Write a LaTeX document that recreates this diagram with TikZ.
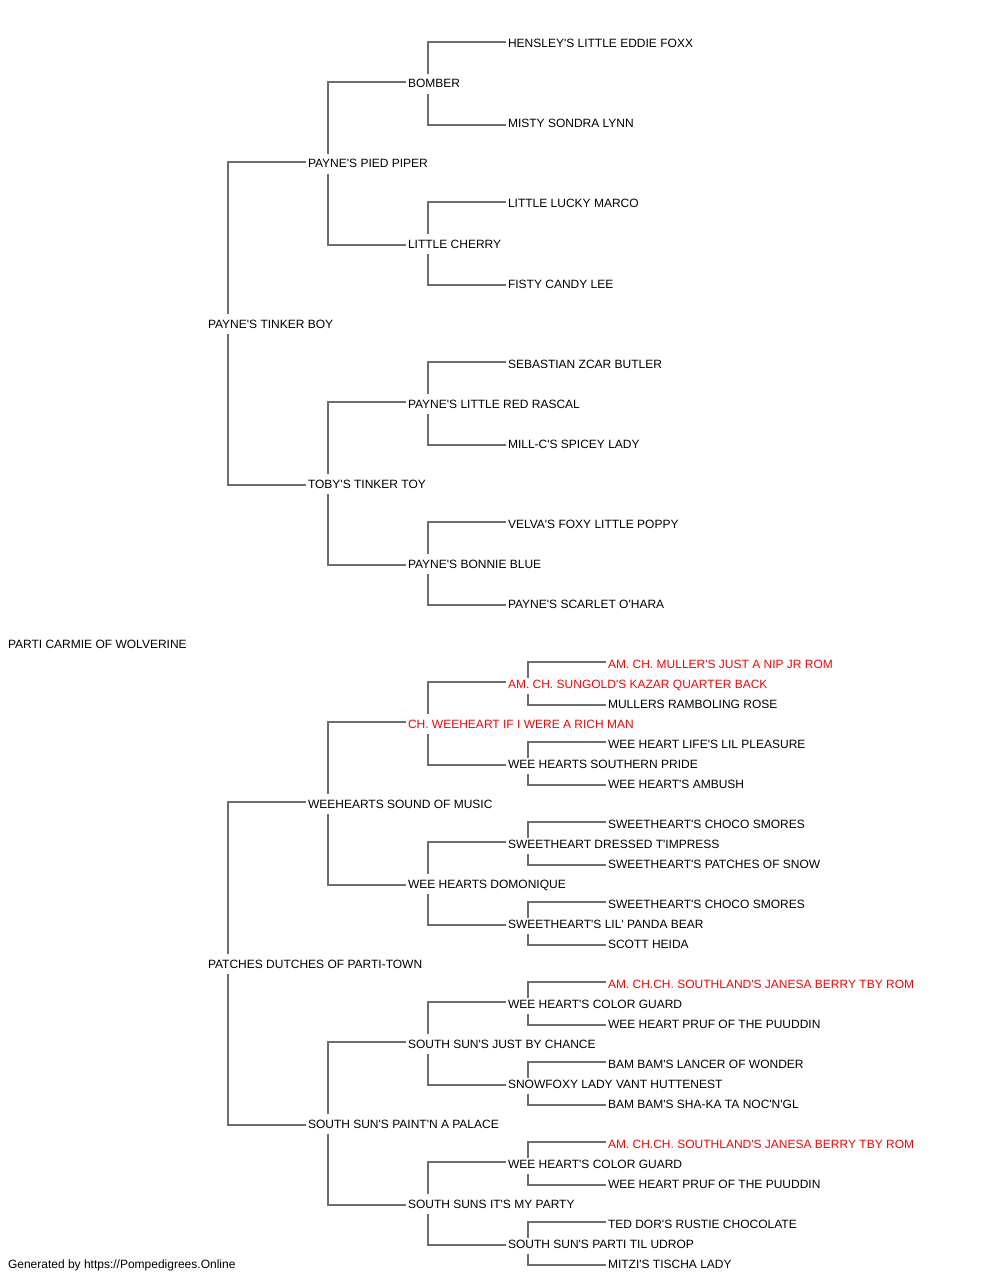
\documentclass[tikz,border=0pt]{standalone}
\usepackage{fontspec}
\setmainfont{Liberation Sans}[Ligatures=TeXOff]
\usetikzlibrary{calc}
\definecolor{linegray}{RGB}{110,110,110}
\definecolor{champ}{RGB}{255,0,0}
\tikzset{
  lbl/.style={anchor=base west,inner sep=0pt,outer sep=0pt,font=\fontsize{9}{11}\selectfont,text=black},
  champlbl/.style={lbl,text=champ},
  conn/.style={draw=linegray,line width=0.8pt}
}
\newcommand\pedS[2]{\draw[conn] ($(#1.base west)+(20,-14)$) |- ($(#2.base west)+(-2,-6)$);}
\newcommand\pedD[2]{\draw[conn] ($(#1.base west)+(20,6)$) |- ($(#2.base west)+(-2,-3)$);}
\newcommand\pedSs[2]{\draw[conn] ($(#1.base west)+(20,-10)$) |- ($(#2.base west)+(-2,-6)$);}
\begin{document}
\begin{tikzpicture}[x=0.75pt,y=-0.75pt]
\useasboundingbox[fill=white] (0,0) rectangle (1000,1280);
% generation 0
\node[lbl] (a) at (8,648) {PARTI CARMIE OF WOLVERINE};
% generation 1
\node[lbl] (b1) at (208,328) {PAYNE'S TINKER BOY};
\node[lbl] (b2) at (208,968) {PATCHES DUTCHES OF PARTI-TOWN};
% generation 2
\node[lbl] (c1) at (308,168) {PAYNE'S PIED PIPER};
\node[lbl] (c2) at (308,488) {TOBY'S TINKER TOY};
\node[lbl] (c3) at (308,808) {WEEHEARTS SOUND OF MUSIC};
\node[lbl] (c4) at (308,1128) {SOUTH SUN'S PAINT'N A PALACE};
% generation 3
\node[lbl] (d1) at (408,88) {BOMBER};
\node[lbl] (d2) at (408,248) {LITTLE CHERRY};
\node[lbl] (d3) at (408,408) {PAYNE'S LITTLE RED RASCAL};
\node[lbl] (d4) at (408,568) {PAYNE'S BONNIE BLUE};
\node[champlbl] (d5) at (408,728) {CH. WEEHEART IF I WERE A RICH MAN};
\node[lbl] (d6) at (408,888) {WEE HEARTS DOMONIQUE};
\node[lbl] (d7) at (408,1048) {SOUTH SUN'S JUST BY CHANCE};
\node[lbl] (d8) at (408,1208) {SOUTH SUNS IT'S MY PARTY};
% generation 4
\node[lbl] (e1) at (508,48) {HENSLEY'S LITTLE EDDIE FOXX};
\node[lbl] (e2) at (508,128) {MISTY SONDRA LYNN};
\node[lbl] (e3) at (508,208) {LITTLE LUCKY MARCO};
\node[lbl] (e4) at (508,288) {FISTY CANDY LEE};
\node[lbl] (e5) at (508,368) {SEBASTIAN ZCAR BUTLER};
\node[lbl] (e6) at (508,448) {MILL-C'S SPICEY LADY};
\node[lbl] (e7) at (508,528) {VELVA'S FOXY LITTLE POPPY};
\node[lbl] (e8) at (508,608) {PAYNE'S SCARLET O'HARA};
\node[champlbl] (e9) at (508,688) {AM. CH. SUNGOLD'S KAZAR QUARTER BACK};
\node[lbl] (e10) at (508,768) {WEE HEARTS SOUTHERN PRIDE};
\node[lbl] (e11) at (508,848) {SWEETHEART DRESSED T'IMPRESS};
\node[lbl] (e12) at (508,928) {SWEETHEART'S LIL' PANDA BEAR};
\node[lbl] (e13) at (508,1008) {WEE HEART'S COLOR GUARD};
\node[lbl] (e14) at (508,1088) {SNOWFOXY LADY VANT HUTTENEST};
\node[lbl] (e15) at (508,1168) {WEE HEART'S COLOR GUARD};
\node[lbl] (e16) at (508,1248) {SOUTH SUN'S PARTI TIL UDROP};
% generation 5
\node[champlbl] (f1) at (608,668) {AM. CH. MULLER'S JUST A NIP JR ROM};
\node[lbl] (f2) at (608,708) {MULLERS RAMBOLING ROSE};
\node[lbl] (f3) at (608,748) {WEE HEART LIFE'S LIL PLEASURE};
\node[lbl] (f4) at (608,788) {WEE HEART'S AMBUSH};
\node[lbl] (f5) at (608,828) {SWEETHEART'S CHOCO SMORES};
\node[lbl] (f6) at (608,868) {SWEETHEART'S PATCHES OF SNOW};
\node[lbl] (f7) at (608,908) {SWEETHEART'S CHOCO SMORES};
\node[lbl] (f8) at (608,948) {SCOTT HEIDA};
\node[champlbl] (f9) at (608,988) {AM. CH.CH. SOUTHLAND'S JANESA BERRY TBY ROM};
\node[lbl] (f10) at (608,1028) {WEE HEART PRUF OF THE PUUDDIN};
\node[lbl] (f11) at (608,1068) {BAM BAM'S LANCER OF WONDER};
\node[lbl] (f12) at (608,1108) {BAM BAM'S SHA-KA TA NOC'N'GL};
\node[champlbl] (f13) at (608,1148) {AM. CH.CH. SOUTHLAND'S JANESA BERRY TBY ROM};
\node[lbl] (f14) at (608,1188) {WEE HEART PRUF OF THE PUUDDIN};
\node[lbl] (f15) at (608,1228) {TED DOR'S RUSTIE CHOCOLATE};
\node[lbl] (f16) at (608,1268) {MITZI'S TISCHA LADY};
% footer
\node[lbl] (foot) at (8,1268) {Generated by https://Pompedigrees.Online};
% connectors
\pedS{b1}{c1} \pedD{b1}{c2}
\pedS{b2}{c3} \pedD{b2}{c4}
\pedS{c1}{d1} \pedD{c1}{d2}
\pedS{c2}{d3} \pedD{c2}{d4}
\pedS{c3}{d5} \pedD{c3}{d6}
\pedS{c4}{d7} \pedD{c4}{d8}
\pedS{d1}{e1} \pedD{d1}{e2}
\pedS{d2}{e3} \pedD{d2}{e4}
\pedS{d3}{e5} \pedD{d3}{e6}
\pedS{d4}{e7} \pedD{d4}{e8}
\pedS{d5}{e9} \pedD{d5}{e10}
\pedS{d6}{e11} \pedD{d6}{e12}
\pedS{d7}{e13} \pedD{d7}{e14}
\pedS{d8}{e15} \pedD{d8}{e16}
\pedSs{e9}{f1} \pedD{e9}{f2}
\pedSs{e10}{f3} \pedD{e10}{f4}
\pedSs{e11}{f5} \pedD{e11}{f6}
\pedSs{e12}{f7} \pedD{e12}{f8}
\pedSs{e13}{f9} \pedD{e13}{f10}
\pedSs{e14}{f11} \pedD{e14}{f12}
\pedSs{e15}{f13} \pedD{e15}{f14}
\pedSs{e16}{f15} \pedD{e16}{f16}
\end{tikzpicture}
\end{document}
